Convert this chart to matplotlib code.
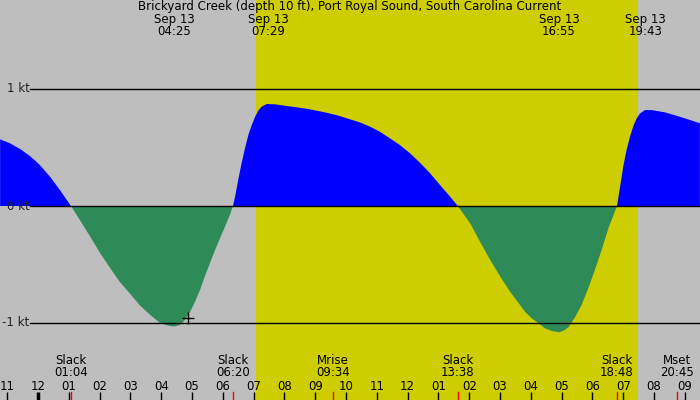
import matplotlib
matplotlib.use("Agg")
import matplotlib.pyplot as plt
import numpy as np

# current speed (kt), time in hours from midnight Sep 13
hours = [-1.23, -0.91, -0.58, -0.26, 0.06, 0.39, 0.71, 1.07, 1.36, 1.69,
         2.01, 2.34, 2.66, 2.99, 3.31, 3.64, 3.96, 4.12, 4.29, 4.42,
         4.61, 4.77, 4.94, 5.10, 5.26, 5.42, 5.58, 5.75, 5.91, 6.07,
         6.23, 6.33, 6.40, 6.50, 6.61, 6.72, 6.83, 6.94, 7.05, 7.15,
         7.26, 7.43, 7.69, 8.24, 8.78, 9.32, 9.72, 10.13, 10.45, 10.78,
         11.10, 11.43, 11.75, 12.08, 12.40, 12.73, 13.05, 13.38, 13.63, 14.03,
         14.35, 14.68, 15.00, 15.32, 15.65, 15.81, 16.03, 16.24, 16.46, 16.68,
         16.92, 17.06, 17.22, 17.44, 17.65, 17.87, 18.08, 18.30, 18.52, 18.80,
         18.90, 19.00, 19.11, 19.22, 19.33, 19.44, 19.55, 19.71, 19.92, 20.36,
         20.90, 21.49]
speed = [0.57, 0.536, 0.487, 0.427, 0.35, 0.25, 0.137, 0.0, -0.12, -0.26,
         -0.40, -0.53, -0.65, -0.75, -0.85, -0.93, -1.00, -1.014, -1.026, -1.03,
         -1.017, -0.974, -0.903, -0.818, -0.718, -0.60, -0.49, -0.376, -0.276, -0.177,
         -0.077, 0.0, 0.08, 0.222, 0.365, 0.493, 0.607, 0.692, 0.763, 0.815,
         0.849, 0.872, 0.869, 0.849, 0.829, 0.80, 0.775, 0.741, 0.715, 0.678,
         0.635, 0.578, 0.521, 0.45, 0.37, 0.28, 0.18, 0.08, 0.0, -0.148,
         -0.305, -0.46, -0.60, -0.73, -0.846, -0.903, -0.96, -1.0, -1.046, -1.068,
         -1.08, -1.066, -1.037, -0.95, -0.846, -0.70, -0.547, -0.376, -0.19, 0.0,
         0.165, 0.336, 0.479, 0.593, 0.684, 0.75, 0.792, 0.82, 0.82, 0.80,
         0.758, 0.707]

sunrise, sunset = 7.08, 19.47

# max current times (top labels)
top_times = [4.417, 7.483, 16.917, 19.717]
top_labels = ["04:25", "07:29", "16:55", "19:43"]

# events along the bottom
event_times = [1.067, 6.333, 9.567, 13.633, 18.8, 20.75]
event_names = ["Slack", "Slack", "Mrise", "Slack", "Slack", "Mset"]
event_labels = ["01:04", "06:20", "09:34", "13:38", "18:48", "20:45"]

hour_ticks = list(range(-1, 22))
kt_levels = [1, 0, -1]

now_time, now_speed = 4.87, -0.957

t = np.array(hours)
v = np.array(speed)

fig = plt.figure(figsize=(7, 4), dpi=100)
fig.patch.set_facecolor("#bebebe")
ax = fig.add_axes([0, 0, 1, 1])
ax.set_facecolor("#bebebe")
x0, x1 = -38 / 30.8, 662 / 30.8
ax.set_xlim(x0, x1)
ax.set_ylim(-194 / 117, 206 / 117)
ax.axis("off")

ax.axvspan(sunrise, sunset, color="#cdcd00", lw=0, zorder=0)
ax.fill_between(t, v, 0, where=v >= 0, interpolate=True, color="#0000ff", lw=0, zorder=1)
ax.fill_between(t, v, 0, where=v <= 0, interpolate=True, color="#2e8b57", lw=0, zorder=1)

fs = 8.5
for k in kt_levels:
    ax.axhline(k, xmin=30 / 700, xmax=1, color="black", lw=1, zorder=2)
    ax.text(-0.28, k, "%d kt" % k, ha="right", va="center", fontsize=fs,
            color="#222222", zorder=3)

ax.plot([now_time], [now_speed], "+", color="black", ms=8, mew=1, zorder=3)

fig.text(0.5, 1 - 6.5 / 400, "Brickyard Creek (depth 10 ft), Port Royal Sound, South Carolina Current",
         ha="center", va="center", fontsize=fs)

def fx(h):
    return (h - x0) / (x1 - x0)

for h, lab in zip(top_times, top_labels):
    fig.text(fx(h), 1 - 19.5 / 400, "Sep 13", ha="center", va="center", fontsize=fs)
    fig.text(fx(h), 1 - 31.5 / 400, lab, ha="center", va="center", fontsize=fs)

for h, name, lab in zip(event_times, event_names, event_labels):
    fig.text(fx(h), 1 - 361 / 400, name, ha="center", va="center", fontsize=fs)
    fig.text(fx(h), 1 - 373 / 400, lab, ha="center", va="center", fontsize=fs)
    ax.plot([h, h], [-186 / 117, -194 / 117], color="red", lw=1, zorder=3)

for h in hour_ticks:
    lab = "%02d" % ((h - 1) % 12 + 1)
    fig.text(fx(h), 1 - 386 / 400, lab, ha="center", va="center", fontsize=fs)
    ax.plot([h, h], [-186 / 117, -194 / 117], color="black",
            lw=2.5 if h == 0 else 1, zorder=3, solid_capstyle="butt")

fig.savefig("out.png", dpi=100, facecolor=fig.get_facecolor())
